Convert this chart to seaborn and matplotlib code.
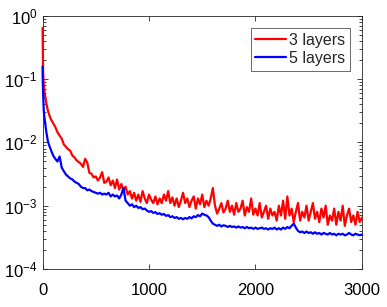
import numpy as np
import pandas as pd
import matplotlib
matplotlib.use("Agg")
import matplotlib.pyplot as plt
import seaborn as sns

early_x = [0, 2, 5, 10, 15, 20, 30, 40, 50, 60, 80]
iters = early_x + list(range(100, 3001, 20))

loss_3 = [
    0.65, 0.32, 0.13, 0.085, 0.07, 0.06, 0.047, 0.038, 0.032, 0.028, 0.023,
    # 100 ..
    0.020, 0.0175, 0.0145, 0.0128, 0.0115, 0.0093, 0.0085, 0.0078, 0.0074, 0.0062,
    # 300 ..
    0.0058, 0.0052, 0.0049, 0.0046, 0.0041, 0.0055, 0.0048, 0.0033, 0.0032, 0.0028,
    # 500 ..
    0.0029, 0.0025, 0.0028, 0.0034, 0.0023, 0.0024, 0.0028, 0.0021, 0.0025, 0.0019,
    # 700 ..
    0.0026, 0.0018, 0.0022, 0.0017, 0.0020, 0.0015, 0.0017, 0.0013, 0.0016, 0.0012,
    # 900 ..
    0.0015, 0.00115, 0.0017, 0.0013, 0.0011, 0.0015, 0.00125, 0.0011, 0.0014, 0.00105,
    # 1100 ..
    0.0013, 0.0011, 0.0015, 0.0012, 0.0017, 0.0011, 0.00135, 0.0010, 0.0013, 0.00095,
    # 1300 ..
    0.0012, 0.0016, 0.0011, 0.0013, 0.00095, 0.0012, 0.0014, 0.0009, 0.0013, 0.00105,
    # 1500 ..
    0.0015, 0.00095, 0.0012, 0.0010, 0.0013, 0.0019, 0.0010, 0.00075, 0.0009, 0.0011,
    # 1700 ..
    0.00078, 0.0009, 0.0012, 0.0008, 0.0010, 0.00072, 0.0011, 0.0008, 0.0009, 0.0012,
    # 1900 ..
    0.0007, 0.00095, 0.0008, 0.0013, 0.00072, 0.0009, 0.0007, 0.0011, 0.00065, 0.0008,
    # 2100 ..
    0.0010, 0.00062, 0.0009, 0.0007, 0.0008, 0.00058, 0.0010, 0.0007, 0.0012, 0.00062,
    # 2300 ..
    0.0014, 0.0007, 0.0009, 0.00055, 0.0008, 0.0011, 0.00058, 0.0008, 0.00065, 0.0010,
    # 2500 ..
    0.00058, 0.0008, 0.0011, 0.00062, 0.0008, 0.00055, 0.0009, 0.00065, 0.0010, 0.0005,
    # 2700 ..
    0.0007, 0.00058, 0.0009, 0.0005, 0.0008, 0.00058, 0.0010, 0.00048, 0.0007, 0.0009,
    # 2900 ..
    0.00055, 0.0007, 0.0005, 0.0008, 0.00055, 0.00065,
]

loss_5 = [
    0.16, 0.09, 0.06, 0.035, 0.027, 0.023, 0.017, 0.013, 0.0105, 0.0092, 0.0075,
    # 100 ..
    0.0062, 0.0055, 0.0050, 0.0060, 0.0040, 0.0035, 0.0031, 0.0029, 0.0027, 0.0026,
    # 300 ..
    0.0024, 0.0023, 0.0022, 0.0020, 0.0019, 0.0019, 0.00175, 0.0018, 0.0017, 0.00165,
    # 500 ..
    0.0016, 0.00155, 0.0016, 0.0015, 0.00155, 0.0015, 0.0016, 0.0014, 0.0015, 0.0014,
    # 700 ..
    0.00145, 0.0013, 0.0015, 0.0019, 0.0012, 0.0011, 0.00100, 0.00105, 0.00095, 0.0010,
    # 900 ..
    0.00092, 0.00095, 0.00088, 0.00090, 0.00084, 0.00080, 0.00082, 0.00077, 0.00079, 0.00074,
    # 1100 ..
    0.00076, 0.00072, 0.00074, 0.00069, 0.00071, 0.00066, 0.00068, 0.00064, 0.00066, 0.00062,
    # 1300 ..
    0.00064, 0.00061, 0.00064, 0.00062, 0.00066, 0.00063, 0.00068, 0.00066, 0.00071, 0.00068,
    # 1500 ..
    0.00075, 0.00072, 0.00070, 0.00066, 0.00058, 0.00052, 0.0005, 0.00048, 0.00050, 0.00047,
    # 1700 ..
    0.00049, 0.00048, 0.00046, 0.00048, 0.00046, 0.00047, 0.00045, 0.00047, 0.00045, 0.00046,
    # 1900 ..
    0.00044, 0.00046, 0.00044, 0.00045, 0.00043, 0.00045, 0.00043, 0.00044, 0.00045, 0.00043,
    # 2100 ..
    0.00044, 0.00042, 0.00044, 0.00043, 0.00045, 0.00042, 0.00044, 0.00042, 0.00045, 0.00043,
    # 2300 ..
    0.00046, 0.00044, 0.00048, 0.00052, 0.00045, 0.0004, 0.00038, 0.00039, 0.00037, 0.00039,
    # 2500 ..
    0.00037, 0.00038, 0.00036, 0.00038, 0.00036, 0.00037, 0.00035, 0.00037, 0.00036, 0.00035,
    # 2700 ..
    0.00037, 0.00035, 0.00036, 0.00034, 0.00036, 0.00035, 0.00036, 0.00034, 0.00035, 0.00037,
    # 2900 ..
    0.00035, 0.00034, 0.00036, 0.00035, 0.00034, 0.00035,
]

labels = ["3 layers", "5 layers"]
colors = ["#ff0000", "#0000ff"]

df = pd.DataFrame({
    "iter": iters * 2,
    "loss": loss_3 + loss_5,
    "model": [labels[0]] * len(iters) + [labels[1]] * len(iters),
})

sns.set_style("ticks")
plt.rcParams["font.family"] = ["Liberation Sans", "DejaVu Sans"]
plt.rcParams["mathtext.fontset"] = "custom"
plt.rcParams["mathtext.rm"] = "Liberation Sans"
plt.rcParams["mathtext.it"] = "Liberation Sans:italic"

fig = plt.figure(figsize=(3.87, 3.07), dpi=100)
ax = fig.add_axes([0.110, 0.124, 0.825, 0.824])

sns.lineplot(data=df, x="iter", y="loss", hue="model", palette=colors,
             linewidth=1.6, ax=ax, estimator=None, sort=False)
for ln in ax.get_lines():
    ln.set_zorder(3)
    ln.set_clip_on(False)

ax.set_yscale("log")
ax.set_xlim(0, 3000)
ax.set_ylim(1e-4, 1e0)
ax.set_xticks([0, 1000, 2000, 3000])
ax.set_xlabel("")
ax.set_ylabel("")

axc = "#262626"
for s in ax.spines.values():
    s.set_visible(True)
    s.set_linewidth(0.6)
    s.set_color(axc)
ax.tick_params(which="both", direction="in", top=True, right=True, colors=axc,
               labelsize=12, width=0.6)
ax.tick_params(which="major", length=3.5)
ax.tick_params(which="minor", length=2)
ax.tick_params(axis="x", pad=10)
for t in ax.get_xticklabels() + ax.get_yticklabels():
    t.set_color("black")

leg = ax.legend(loc="upper right", fontsize=11.5, frameon=True, fancybox=False,
                handlelength=1.9, handletextpad=0.2, borderpad=0.3,
                labelspacing=0.2, borderaxespad=0.75)
leg.get_frame().set_edgecolor(axc)
leg.get_frame().set_linewidth(0.6)
for line in leg.get_lines():
    line.set_linewidth(1.6)

fig.savefig("out.png", dpi=100)
